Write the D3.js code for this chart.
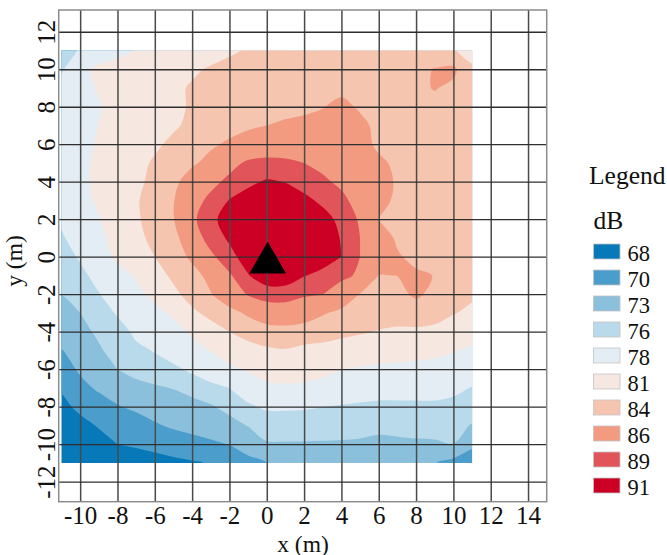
<!DOCTYPE html>
<html>
<head>
<meta charset="utf-8">
<script src="https://cdn.jsdelivr.net/npm/d3@7"></script>
<style>
  html, body { margin: 0; padding: 0; background: #fff; }
  svg { display: block; }
  text { font-family: "Liberation Serif", serif; fill: #111; }
</style>
</head>
<body>
<svg id="chart" width="667" height="555"></svg>
<script>
//tick labels
var xTicks = [-10, -8, -6, -4, -2, 0, 2, 4, 6, 8, 10, 12, 14];
var yTicks = [-12, -10, -8, -6, -4, -2, 0, 2, 4, 6, 8, 10, 12];

//legend
var legendLabels = [68, 70, 73, 76, 78, 81, 84, 86, 89, 91];
var legendColors = ["#0779b9", "#4b9dcb", "#8bc0dd", "#b9daea", "#e3edf3", "#f6e7e1", "#f6c5af", "#f29b81", "#e15459", "#cc0024"];

//lower bound of each band, first one catches everything
var bandFloors = [60, 70, 73, 76, 78, 81, 84, 86, 89, 91];

//measured area, 1 m spacing
var gridXs = d3.range(-11, 12);
var gridYs = d3.range(11, -12, -1);

//dB per row, y = 11 at the top, x = -11 on the left
var dbRows = [
  [77.0, 78.2, 79.2, 80.2, 81.2, 81.7, 82.2, 82.7, 83.2, 83.7, 84.2, 84.5, 84.7, 84.8, 84.8, 84.8, 84.8, 84.8, 84.7, 84.6, 84.5, 84.1, 83.5],
  [77.7, 80.0, 81.6, 82.0, 82.4, 82.8, 83.2, 83.7, 84.2, 84.6, 84.9, 85.1, 85.2, 85.3, 85.3, 85.3, 85.3, 85.3, 85.3, 85.4, 86.1, 86.4, 84.2],
  [79.0, 80.2, 81.2, 82.0, 82.5, 83.0, 83.6, 84.2, 84.6, 84.9, 85.1, 85.3, 85.4, 85.5, 85.6, 85.7, 85.7, 85.6, 85.5, 85.6, 86.1, 85.6, 84.8],
  [79.5, 80.4, 80.8, 81.9, 82.5, 83.0, 83.6, 84.2, 84.7, 85.0, 85.3, 85.5, 85.6, 85.75, 85.95, 86.3, 85.85, 85.6, 85.4, 85.3, 85.4, 85.2, 84.8],
  [79.3, 80.2, 81.05, 81.8, 82.4, 82.9, 83.7, 84.5, 84.9, 85.3, 85.7, 86.0, 86.2, 86.3, 86.4, 86.5, 86.3, 85.7, 85.3, 85.1, 85.0, 84.9, 84.7],
  [79.2, 80.3, 81.2, 81.9, 82.5, 83.6, 84.5, 85.0, 85.7, 86.3, 86.9, 87.3, 87.4, 87.4, 87.3, 87.2, 86.8, 85.6, 85.2, 85.0, 84.9, 84.8, 84.6],
  [79.0, 80.6, 81.3, 82.0, 83.3, 84.3, 85.0, 85.7, 86.6, 88.2, 89.4, 89.7, 89.5, 89.0, 88.4, 87.7, 87.2, 86.4, 85.6, 85.2, 85.0, 84.8, 84.6],
  [78.6, 80.5, 81.5, 82.3, 83.5, 84.6, 85.5, 87.0, 88.3, 89.6, 90.6, 91.2, 90.95, 90.2, 89.4, 88.5, 87.6, 86.7, 85.8, 85.3, 85.0, 84.8, 84.6],
  [78.3, 80.3, 81.3, 82.4, 83.8, 84.9, 85.9, 88.0, 89.6, 91.1, 91.8, 92.0, 91.9, 91.5, 90.6, 89.6, 88.0, 86.7, 85.6, 85.2, 85.0, 84.8, 84.6],
  [78.6, 80.0, 80.9, 82.1, 83.7, 84.9, 85.9, 88.5, 90.5, 91.9, 92.5, 92.8, 92.7, 92.3, 91.7, 90.5, 88.7, 85.95, 85.3, 85.1, 85.0, 84.8, 84.6],
  [77.6, 79.6, 80.6, 81.6, 83.2, 84.8, 85.3, 87.6, 90.0, 91.3, 92.4, 93.0, 93.0, 92.6, 91.9, 90.9, 89.0, 87.1, 85.7, 85.3, 85.1, 84.9, 84.6],
  [76.9, 78.3, 80.0, 81.4, 82.7, 84.0, 85.0, 86.4, 88.5, 90.4, 91.9, 93.0, 93.1, 92.8, 92.0, 91.0, 89.0, 87.2, 86.2, 85.5, 85.0, 84.8, 84.5],
  [76.4, 77.4, 78.8, 80.2, 81.2, 82.9, 84.5, 85.3, 86.6, 88.7, 90.9, 92.2, 92.3, 91.1, 90.4, 89.6, 88.6, 85.95, 86.02, 86.3, 85.95, 85.0, 84.5],
  [76.05, 76.9, 77.9, 79.2, 80.4, 81.6, 83.4, 85.0, 85.9, 87.3, 89.2, 90.0, 89.9, 89.3, 89.05, 87.6, 85.9, 85.3, 85.6, 86.25, 85.6, 84.7, 84.3],
  [75.0, 76.0, 77.0, 78.2, 79.3, 80.4, 81.4, 83.5, 84.7, 85.4, 86.3, 87.5, 87.8, 87.3, 86.2, 85.5, 85.1, 84.9, 84.8, 85.2, 84.9, 84.1, 83.6],
  [74.5, 75.3, 76.4, 77.2, 78.4, 79.3, 80.1, 81.4, 82.9, 84.0, 84.8, 85.0, 85.1, 84.9, 84.7, 84.4, 84.2, 83.9, 83.7, 83.6, 83.4, 83.0, 82.5],
  [72.9, 74.0, 75.7, 76.9, 77.6, 78.1, 79.0, 80.1, 81.1, 82.3, 83.2, 83.75, 83.9, 83.6, 83.5, 83.3, 82.9, 82.6, 82.4, 82.2, 81.9, 81.2, 80.3],
  [71.7, 73.4, 74.8, 76.0, 76.9, 77.4, 77.6, 78.4, 79.4, 80.5, 81.3, 82.0, 82.0, 81.9, 81.6, 81.1, 80.7, 80.4, 80.2, 80.0, 79.8, 79.4, 79.0],
  [70.3, 72.2, 73.4, 74.5, 75.2, 75.7, 76.1, 76.8, 77.4, 78.0, 79.4, 80.5, 80.7, 80.6, 80.2, 79.8, 79.4, 79.2, 79.0, 78.8, 78.6, 78.5, 77.9],
  [69.3, 70.6, 71.8, 72.8, 73.6, 74.2, 74.8, 75.2, 75.8, 76.6, 77.6, 78.4, 78.4, 78.3, 78.05, 77.8, 77.6, 77.4, 77.5, 77.6, 77.7, 77.4, 76.8],
  [68.2, 69.2, 70.2, 70.9, 71.6, 72.7, 73.4, 73.9, 74.5, 75.3, 76.1, 76.5, 76.6, 76.6, 76.7, 76.7, 76.9, 76.8, 76.9, 76.7, 76.6, 76.5, 75.9],
  [67.5, 68.2, 69.1, 70.0, 70.4, 70.9, 71.5, 72.0, 72.5, 73.1, 74.5, 75.9, 75.9, 75.9, 75.85, 75.8, 75.6, 75.2, 75.4, 75.7, 75.8, 75.98, 73.5],
  [67.0, 67.3, 67.7, 68.1, 68.5, 68.9, 69.3, 69.7, 70.2, 71.0, 72.0, 73.0, 73.3, 73.5, 73.6, 73.7, 73.6, 73.2, 73.2, 73.2, 73.1, 72.0, 71.5]
];

//source marker position
var sourceX = 0.05;
var sourceY = -0.33;

var svg = d3.select("#chart");

var x = d3.scaleLinear().domain([-11.15, 15]).range([58.7, 546.7]);
var y = d3.scaleLinear().domain([-13.07, 13.16]).range([501.7, 10]);

//clip to the measured area, contours run half a cell further
svg.append("clipPath").attr("id", "areaClip").append("rect")
    .attr("x", x(gridXs[0])).attr("y", y(gridYs[0]))
    .attr("width", x(gridXs[gridXs.length - 1]) - x(gridXs[0]))
    .attr("height", y(gridYs[gridYs.length - 1]) - y(gridYs[0]));

var contours = d3.contours()
    .size([gridXs.length, gridYs.length])
    .thresholds(bandFloors)(dbRows.flat());

//contour coords: value i sits at i + 0.5
var ringLine = d3.line()
    .x(p => x(gridXs[0] + p[0] - 0.5))
    .y(p => y(gridYs[0] - p[1] + 0.5))
    .curve(d3.curveCatmullRomClosed.alpha(0.5));

function contourPath(c) {
    var d = "";
    c.coordinates.forEach(function (polygon) {
        polygon.forEach(function (ring) {
            d += ringLine(ring.slice(0, -1));
        });
    });
    return d;
}

svg.append("g").attr("clip-path", "url(#areaClip)")
    .selectAll("path").data(contours).enter().append("path")
    .attr("d", contourPath)
    .attr("fill-rule", "evenodd")
    .attr("fill", (d, i) => legendColors[i]);

//grid lines are the axis ticks
var xAxis = svg.append("g").attr("transform", `translate(0,${y.range()[0]})`)
    .call(d3.axisBottom(x).tickValues(xTicks).tickFormat(d => String(d)).tickSize(y.range()[1] - y.range()[0]));
xAxis.select(".domain").remove();
xAxis.selectAll("line").attr("stroke", "#4a4a4a").attr("stroke-width", 1.5);
xAxis.selectAll("text").attr("y", 0).attr("dy", 0)
    .attr("transform", "translate(0,22.5)")
    .style("font-size", "25px").attr("text-anchor", "middle").attr("fill", "#111");

var yAxis = svg.append("g").attr("transform", `translate(${x.range()[0]},0)`)
    .call(d3.axisLeft(y).tickValues(yTicks).tickFormat(d => String(d)).tickSize(x.range()[0] - x.range()[1]));
yAxis.select(".domain").remove();
yAxis.selectAll("line").attr("stroke", "#2e2e2e").attr("stroke-width", 1.3);
yAxis.selectAll("text").attr("x", 0).attr("dy", 0)
    .attr("transform", "translate(-3.5,0) rotate(-90)")
    .style("font-size", "25px").attr("text-anchor", "middle").attr("fill", "#111");

//frame
svg.append("rect")
    .attr("x", x.range()[0]).attr("y", y.range()[1])
    .attr("width", x.range()[1] - x.range()[0]).attr("height", y.range()[0] - y.range()[1])
    .attr("fill", "none").attr("stroke", "#8c8c8c").attr("stroke-width", 1.5);

//source
svg.append("path")
    .attr("d", d3.symbol().type(d3.symbolTriangle).size(583)())
    .attr("transform", `translate(${x(sourceX)},${y(sourceY)})`)
    .attr("fill", "#000");

//axis titles
svg.append("text").attr("x", 303).attr("y", 551.5).attr("text-anchor", "middle")
    .style("font-size", "23.5px").text("x (m)");
svg.append("text").attr("transform", "translate(22,261) rotate(-90)").attr("text-anchor", "middle")
    .style("font-size", "23.5px").text("y (m)");

//legend
svg.append("text").attr("x", 589).attr("y", 184).style("font-size", "25.5px").text("Legend");
svg.append("text").attr("x", 593.5).attr("y", 229).style("font-size", "25.5px").text("dB");

var legendY = d3.scalePoint().domain(legendLabels).range([244, 478]);

var legendItem = svg.append("g").selectAll("g").data(legendLabels).enter().append("g")
    .attr("transform", d => `translate(593.5,${legendY(d)})`);

legendItem.append("rect")
    .attr("width", 26.5).attr("height", 15)
    .attr("fill", (d, i) => legendColors[i])
    .attr("stroke", "#c4c4c4").attr("stroke-width", 0.8);

legendItem.append("text")
    .attr("x", 34).attr("y", 17)
    .style("font-size", "22.5px")
    .text(d => d);
</script>
</body>
</html>
